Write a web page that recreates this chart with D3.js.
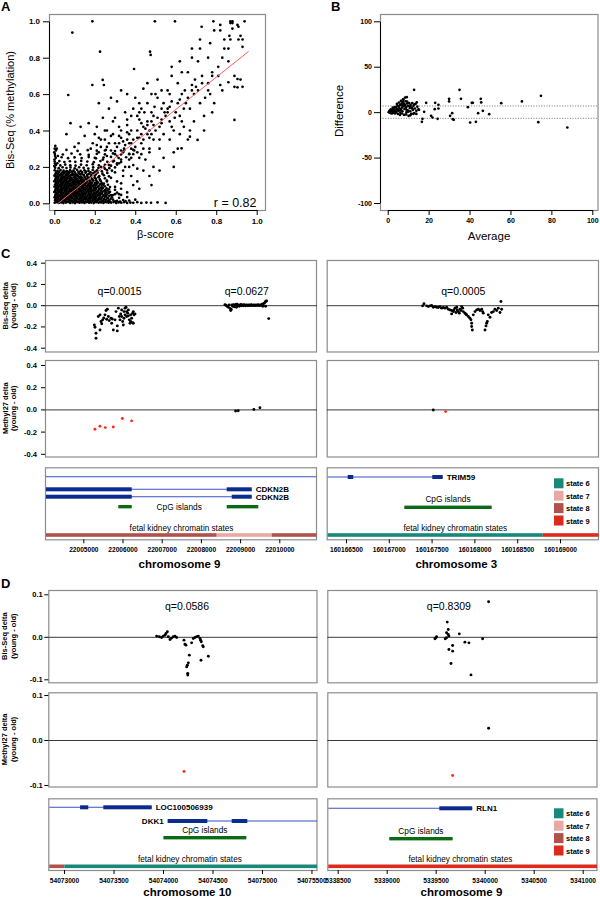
<!DOCTYPE html>
<html><head><meta charset="utf-8">
<script src="https://cdn.jsdelivr.net/npm/d3@7"></script>
<style>body{margin:0;background:#fff}svg{display:block}</style>
</head><body><svg id="fig" width="600" height="897"></svg>
<script>
// ================= DATA =================
// Panel A: beta-score vs Bis-Seq methylation
const scatterA = [
[0.002,0.003],[0.013,0.006],[0.022,0.002],[0.034,0.005],[0.045,0.001],[0.057,0.004],[0.068,0.007],[0.079,0.002],[0.091,0.005],[0.102,0.001],[0.114,0.006],[0.125,0.003],[0.137,0.005],[0.149,0.002],[0.16,0.006],[0.172,0.003],[0.183,0.004],[0.195,0.001],[0.207,0.006],[0.219,0.003],[0.231,0.005],[0.243,0.002],[0.256,0.006],[0.268,0.003],[0.281,0.004],[0.293,0.007],[0.306,0.002],[0.318,0.005],[0.331,0.003],[0.345,0.006],[0.36,0.002],[0.376,0.004],[0.39,0.003],[0.41,0.006],[0.43,0.002],[0.455,0.004],[0.478,0.003],[0.51,0.005],[0.55,0.002],
[0.004,0.017],[0.016,0.02],[0.027,0.015],[0.039,0.019],[0.05,0.016],[0.062,0.021],[0.073,0.017],[0.085,0.014],[0.097,0.019],[0.108,0.016],[0.12,0.021],[0.131,0.015],[0.143,0.018],[0.155,0.022],[0.166,0.016],[0.178,0.019],[0.19,0.014],[0.202,0.02],[0.214,0.017],[0.227,0.021],[0.24,0.015],[0.254,0.019],[0.27,0.016],[0.29,0.02],[0.31,0.014],[0.34,0.018],[0.37,0.015],[0.4,0.02],
[0.001,0.033],[0.01,0.03],[0.021,0.034],[0.033,0.029],[0.044,0.035],[0.056,0.031],[0.067,0.028],[0.079,0.034],[0.09,0.03],[0.102,0.036],[0.113,0.031],[0.125,0.028],[0.137,0.033],[0.148,0.03],[0.16,0.035],[0.171,0.029],[0.183,0.033],[0.195,0.03],[0.207,0.034],[0.22,0.028],[0.235,0.032],[0.25,0.036],[0.265,0.03],[0.285,0.033],[0.32,0.03],[0.36,0.034],
[0.005,0.046],[0.016,0.049],[0.028,0.044],[0.039,0.048],[0.051,0.045],[0.062,0.05],[0.074,0.046],[0.085,0.043],[0.097,0.048],[0.108,0.045],[0.12,0.05],[0.131,0.044],[0.143,0.047],[0.154,0.051],[0.166,0.045],[0.178,0.048],[0.19,0.043],[0.203,0.049],[0.215,0.046],[0.228,0.05],[0.243,0.044],[0.26,0.048],[0.28,0.045],[0.3,0.05],[0.33,0.046],
[0.0,0.062],[0.011,0.059],[0.022,0.064],[0.034,0.06],[0.045,0.058],[0.057,0.063],[0.068,0.06],[0.08,0.065],[0.091,0.059],[0.103,0.062],[0.114,0.058],[0.126,0.064],[0.137,0.061],[0.149,0.057],[0.16,0.063],[0.172,0.06],[0.184,0.065],[0.197,0.059],[0.21,0.062],[0.224,0.058],[0.238,0.064],[0.255,0.06],[0.275,0.063],[0.31,0.059],
[0.006,0.075],[0.017,0.078],[0.029,0.073],[0.04,0.077],[0.052,0.074],[0.063,0.079],[0.075,0.075],[0.086,0.072],[0.098,0.077],[0.109,0.074],[0.121,0.079],[0.132,0.073],[0.144,0.076],[0.156,0.08],[0.167,0.074],[0.18,0.077],[0.192,0.072],[0.205,0.078],[0.219,0.075],[0.234,0.079],[0.25,0.073],[0.27,0.077],[0.3,0.074],
[0.001,0.091],[0.012,0.088],[0.024,0.093],[0.035,0.089],[0.047,0.087],[0.058,0.092],[0.07,0.089],[0.081,0.094],[0.093,0.088],[0.104,0.091],[0.116,0.087],[0.127,0.093],[0.139,0.09],[0.151,0.086],[0.162,0.092],[0.175,0.089],[0.188,0.094],[0.201,0.088],[0.216,0.091],[0.232,0.087],[0.25,0.093],[0.275,0.089],
[0.005,0.104],[0.017,0.107],[0.028,0.102],[0.04,0.106],[0.051,0.103],[0.063,0.108],[0.074,0.104],[0.086,0.101],[0.097,0.106],[0.109,0.103],[0.12,0.108],[0.132,0.102],[0.144,0.105],[0.156,0.109],[0.168,0.103],[0.181,0.106],[0.195,0.101],[0.21,0.107],[0.226,0.104],[0.245,0.108],[0.265,0.102],
[0.0,0.121],[0.011,0.118],[0.023,0.123],[0.034,0.119],[0.046,0.117],[0.057,0.122],[0.069,0.119],[0.08,0.124],[0.092,0.118],[0.103,0.121],[0.115,0.117],[0.127,0.123],[0.139,0.12],[0.151,0.116],[0.164,0.122],[0.178,0.119],[0.193,0.124],[0.21,0.118],[0.23,0.121],[0.26,0.125],
[0.006,0.134],[0.018,0.137],[0.03,0.132],[0.042,0.136],[0.054,0.133],[0.066,0.138],[0.078,0.134],[0.09,0.131],[0.102,0.136],[0.115,0.133],[0.128,0.138],[0.141,0.132],[0.155,0.135],[0.17,0.139],[0.186,0.133],[0.205,0.136],[0.225,0.131],[0.25,0.137],
[0.001,0.151],[0.013,0.148],[0.026,0.153],[0.038,0.149],[0.05,0.147],[0.063,0.152],[0.076,0.149],[0.089,0.154],[0.103,0.148],[0.117,0.151],[0.132,0.147],[0.147,0.153],[0.163,0.15],[0.18,0.146],[0.2,0.152],[0.222,0.149],[0.245,0.154],[0.27,0.148],
[0.007,0.164],[0.02,0.167],[0.033,0.162],[0.047,0.166],[0.061,0.163],[0.075,0.168],[0.09,0.164],[0.105,0.161],[0.121,0.166],[0.137,0.163],[0.154,0.168],[0.172,0.162],[0.192,0.165],[0.214,0.169],[0.238,0.163],[0.262,0.167],
[0.002,0.181],[0.016,0.178],[0.031,0.183],[0.046,0.179],[0.062,0.177],[0.078,0.182],[0.095,0.179],[0.112,0.184],[0.13,0.178],[0.149,0.181],[0.169,0.177],[0.19,0.183],[0.212,0.18],[0.235,0.176],[0.26,0.182],[0.285,0.179],
[0.004,0.196],[0.022,0.193],[0.041,0.198],[0.06,0.194],[0.08,0.197],[0.101,0.192],[0.123,0.198],[0.145,0.195],[0.168,0.191],[0.192,0.197],[0.218,0.194],[0.245,0.199],[0.272,0.193],[0.3,0.197],
[0.008,0.211],[0.03,0.208],[0.054,0.213],[0.079,0.209],[0.105,0.207],[0.132,0.212],[0.16,0.209],[0.19,0.214],[0.22,0.208],[0.25,0.211],[0.28,0.207],[0.31,0.213],
[0.002,0.229],[0.025,0.232],[0.05,0.227],[0.077,0.231],[0.104,0.228],[0.133,0.233],[0.163,0.229],[0.195,0.226],[0.228,0.232],[0.262,0.228],[0.295,0.233],[0.33,0.227],
[0.007,0.25],[0.036,0.253],[0.068,0.248],[0.1,0.252],[0.135,0.249],[0.17,0.254],[0.206,0.247],[0.243,0.251],[0.28,0.255],[0.318,0.249],[0.355,0.253],
[0.003,0.271],[0.042,0.268],[0.085,0.273],[0.128,0.269],[0.17,0.266],[0.21,0.272],[0.25,0.269],[0.29,0.274],[0.33,0.268],[0.37,0.272],
[0.008,0.29],[0.06,0.293],[0.115,0.288],[0.165,0.292],[0.21,0.289],[0.255,0.294],[0.3,0.287],[0.345,0.291],[0.39,0.294],
[0.008,0.011],[0.019,0.009],[0.03,0.012],[0.041,0.01],[0.052,0.013],[0.063,0.009],[0.074,0.011],[0.086,0.013],[0.097,0.009],[0.108,0.012],[0.12,0.01],[0.131,0.013],[0.142,0.009],[0.154,0.011],[0.165,0.013],[0.176,0.009],[0.188,0.012],[0.2,0.01],[0.212,0.012],[0.225,0.009],[0.237,0.012],[0.25,0.01],[0.262,0.011],[0.275,0.009],[0.3,0.011],[0.325,0.01],[0.352,0.012],
[0.007,0.025],[0.018,0.027],[0.03,0.023],[0.041,0.026],[0.053,0.024],[0.064,0.027],[0.076,0.023],[0.087,0.026],[0.099,0.024],[0.11,0.027],[0.122,0.023],[0.133,0.026],[0.145,0.024],[0.157,0.027],[0.168,0.023],[0.18,0.026],[0.192,0.024],[0.205,0.027],[0.218,0.023],[0.232,0.026],[0.246,0.024],[0.262,0.027],[0.278,0.024],
[0.005,0.04],[0.016,0.038],[0.027,0.041],[0.038,0.039],[0.05,0.042],[0.061,0.038],[0.073,0.041],[0.084,0.039],[0.096,0.042],[0.107,0.038],[0.119,0.041],[0.13,0.039],[0.142,0.042],[0.153,0.038],[0.165,0.041],[0.177,0.039],[0.189,0.042],[0.201,0.038],[0.213,0.041],[0.226,0.039],[0.24,0.042],[0.256,0.039],[0.272,0.041],
[0.009,0.054],[0.02,0.056],[0.032,0.052],[0.043,0.055],[0.055,0.053],[0.066,0.056],[0.078,0.052],[0.089,0.055],[0.101,0.053],[0.112,0.056],[0.124,0.052],[0.135,0.055],[0.147,0.053],[0.158,0.056],[0.17,0.052],[0.182,0.055],[0.194,0.053],[0.207,0.056],[0.22,0.052],[0.234,0.055],[0.25,0.053],[0.268,0.056],
[0.004,0.068],[0.015,0.07],[0.027,0.066],[0.038,0.069],[0.05,0.067],[0.061,0.07],[0.073,0.066],[0.084,0.069],[0.096,0.067],[0.107,0.07],[0.119,0.066],[0.13,0.069],[0.142,0.067],[0.153,0.07],[0.165,0.066],[0.177,0.069],[0.189,0.067],[0.202,0.07],[0.215,0.066],[0.229,0.069],[0.245,0.067],[0.262,0.07],
[0.009,0.083],[0.02,0.085],[0.032,0.081],[0.043,0.084],[0.055,0.082],[0.066,0.085],[0.078,0.081],[0.089,0.084],[0.101,0.082],[0.112,0.085],[0.124,0.081],[0.135,0.084],[0.147,0.082],[0.158,0.085],[0.17,0.081],[0.182,0.084],[0.195,0.082],[0.208,0.085],[0.223,0.081],[0.24,0.084],[0.258,0.082],
[0.004,0.097],[0.015,0.099],[0.027,0.095],[0.038,0.098],[0.05,0.096],[0.061,0.099],[0.073,0.095],[0.084,0.098],[0.096,0.096],[0.107,0.099],[0.119,0.095],[0.13,0.098],[0.142,0.096],[0.153,0.099],[0.165,0.095],[0.177,0.098],[0.19,0.096],[0.204,0.099],[0.219,0.095],[0.236,0.098],
[0.009,0.112],[0.02,0.114],[0.032,0.11],[0.043,0.113],[0.055,0.111],[0.066,0.114],[0.078,0.11],[0.089,0.113],[0.101,0.111],[0.112,0.114],[0.124,0.11],[0.135,0.113],[0.147,0.111],[0.159,0.114],[0.172,0.11],[0.186,0.113],[0.2,0.111],[0.216,0.114],[0.235,0.11],
[0.004,0.127],[0.015,0.129],[0.027,0.125],[0.038,0.128],[0.05,0.126],[0.061,0.129],[0.073,0.125],[0.084,0.128],[0.096,0.126],[0.108,0.129],[0.12,0.125],[0.133,0.128],[0.146,0.126],[0.16,0.129],[0.175,0.125],[0.19,0.128],[0.207,0.126],[0.226,0.129],
[0.009,0.142],[0.021,0.144],[0.033,0.14],[0.045,0.143],[0.058,0.141],[0.07,0.144],[0.083,0.14],[0.096,0.143],[0.109,0.141],[0.123,0.144],[0.137,0.14],[0.151,0.143],[0.166,0.141],[0.182,0.144],[0.199,0.14],[0.218,0.143],
[0.004,0.157],[0.017,0.159],[0.03,0.155],[0.043,0.158],[0.056,0.156],[0.069,0.159],[0.083,0.155],[0.097,0.158],[0.112,0.156],[0.128,0.159],[0.145,0.155],[0.163,0.158],[0.183,0.156],[0.205,0.159],
[0.01,0.172],[0.025,0.174],[0.04,0.17],[0.055,0.173],[0.07,0.171],[0.086,0.174],[0.102,0.17],[0.119,0.173],[0.137,0.171],[0.157,0.174],[0.179,0.17],[0.2,0.173],
[0.0,0.205],[0.003,0.218],[0.001,0.24],[0.004,0.26],[0.0,0.28],[0.002,0.3],[0.005,0.315],[0.015,0.22],[0.018,0.26],[0.012,0.3],
[0.17,0.44],[0.19,0.33],[0.2,0.38],[0.21,0.42],[0.22,0.36],[0.23,0.31],[0.24,0.47],[0.25,0.35],[0.26,0.4],[0.27,0.52],[0.28,0.37],[0.29,0.45],[0.3,0.33],[0.22,0.55],[0.15,0.37],[0.13,0.42],[0.12,0.33],[0.08,0.44],[0.06,0.38],[0.1,0.31],[0.18,0.3],[0.26,0.31],[0.31,0.56],[0.33,0.62],[0.28,0.58],[0.36,0.6],
[0.2,0.25],[0.21,0.18],[0.22,0.28],[0.23,0.2],[0.24,0.24],[0.25,0.19],[0.26,0.26],[0.27,0.21],[0.28,0.29],[0.29,0.23],[0.3,0.27],[0.21,0.32],[0.23,0.35],[0.25,0.29],[0.27,0.33],[0.29,0.38],[0.31,0.22],[0.33,0.29],[0.35,0.32],[0.37,0.27],[0.39,0.35],[0.32,0.37],[0.34,0.34],[0.36,0.39],[0.38,0.33],[0.4,0.31],[0.41,0.36],[0.43,0.38],[0.45,0.41],[0.47,0.36],[0.49,0.43],[0.42,0.46],[0.44,0.35],[0.46,0.38],[0.48,0.45],[0.5,0.4],[0.35,0.2],[0.37,0.24],[0.39,0.21],[0.41,0.19],[0.43,0.27],[0.45,0.24],[0.28,0.14],[0.3,0.17],[0.26,0.12],[0.24,0.1],[0.3,0.09],[0.27,0.06],[0.33,0.11],[0.29,0.045],[0.25,0.4],[0.3,0.47],[0.35,0.5],[0.4,0.58],[0.44,0.63],[0.38,0.48],[0.42,0.5],[0.5,0.6],[0.55,0.48],[0.53,0.46],[0.57,0.53],[0.6,0.5],[0.58,0.42],[0.62,0.57],[0.65,0.55],[0.63,0.45],[0.68,0.62],[0.7,0.64],
[0.31,0.31],[0.32,0.33],[0.33,0.36],[0.34,0.28],[0.31,0.26],[0.32,0.22],[0.33,0.4],[0.34,0.18],[0.31,0.12],[0.32,0.05],[0.33,0.08],[0.34,0.15],[0.32,0.42],[0.33,0.24],[0.345,0.3],
[0.36,0.35],[0.37,0.38],[0.38,0.3],[0.39,0.27],[0.36,0.43],[0.37,0.2],[0.38,0.15],[0.39,0.1],[0.36,0.46],[0.37,0.33],[0.38,0.25],[0.39,0.52],[0.36,0.06],[0.38,0.4],[0.395,0.29],
[0.41,0.4],[0.42,0.36],[0.43,0.44],[0.44,0.3],[0.41,0.48],[0.42,0.25],[0.43,0.52],[0.44,0.18],[0.41,0.12],[0.42,0.55],[0.43,0.33],[0.44,0.42],[0.41,0.28],[0.42,0.08],[0.445,0.5],
[0.46,0.45],[0.47,0.4],[0.48,0.5],[0.49,0.35],[0.46,0.55],[0.47,0.28],[0.48,0.6],[0.49,0.2],[0.46,0.43],[0.47,0.15],[0.48,0.38],[0.49,0.48],[0.46,0.66],[0.47,0.3],[0.48,0.1],[0.495,0.53],
[0.51,0.47],[0.52,0.42],[0.53,0.52],[0.54,0.38],[0.51,0.58],[0.52,0.3],[0.53,0.62],[0.54,0.25],[0.51,0.68],[0.52,0.35],[0.53,0.44],[0.54,0.55],[0.52,0.18],[0.545,0.5],
[0.56,0.5],[0.57,0.45],[0.58,0.56],[0.59,0.4],[0.56,0.62],[0.57,0.35],[0.58,0.7],[0.59,0.28],[0.56,0.52],[0.57,0.6],[0.58,0.75],[0.59,0.2],[0.595,0.47],
[0.61,0.55],[0.62,0.48],[0.63,0.6],[0.64,0.42],[0.61,0.66],[0.62,0.38],[0.63,0.72],[0.64,0.52],[0.61,0.3],[0.62,0.78],[0.645,0.62],
[0.66,0.58],[0.67,0.52],[0.68,0.65],[0.69,0.45],[0.66,0.72],[0.67,0.4],[0.68,0.8],[0.69,0.6],[0.66,0.35],[0.68,0.85],[0.695,0.68],
[0.71,0.62],[0.72,0.55],[0.73,0.7],[0.74,0.48],[0.71,0.78],[0.72,0.85],[0.73,0.66],[0.74,0.4],[0.72,0.9],[0.745,0.58],
[0.76,0.66],[0.77,0.6],[0.78,0.72],[0.79,0.55],[0.76,0.8],[0.77,0.88],[0.78,0.7],[0.79,0.95],[0.76,0.62],[0.78,0.5],
[0.81,0.7],[0.82,0.65],[0.83,0.8],[0.84,0.9],[0.81,0.75],[0.82,0.95],[0.83,0.62],[0.84,0.85],[0.82,0.98],
[0.86,0.78],[0.87,0.9],[0.88,0.96],[0.89,0.7],[0.86,0.85],[0.87,0.99],[0.88,1.0],[0.89,0.64],[0.865,0.92],
[0.91,0.97],[0.92,0.92],[0.93,0.86],[0.92,0.68],[0.93,0.64],[0.91,0.9],[0.94,1.0],
[0.188,1.0],[0.497,1.0],[0.596,1.0],[0.089,0.938],[0.226,0.833],[0.069,0.595],[0.188,0.65],[0.239,0.678],[0.245,0.65],[0.394,0.738],[0.473,0.833],[0.476,0.815],[0.728,0.97],[0.786,1.0],[0.87,1.0],[0.88,0.99],[0.905,0.98],[0.93,0.9],[0.89,0.458],[0.905,0.683],[0.905,0.637],[0.86,0.665],[0.629,0.302],[0.708,0.348],[0.67,0.366]
];
const fitA = { intercept: -0.017, slope: 0.887, from: 0.015, to: 0.96 };
const corrA = "r = 0.82";
const ticksA = [0, 0.2, 0.4, 0.6, 0.8, 1.0];

// Panel B: Bland-Altman (average vs difference)
const scatterB = [
[0.5,0],[1,-0.5],[1.2,0.8],[1.5,-1],[1.8,1.5],[2,0.3],[2.2,2.5],[2.5,-0.8],[2.8,3.2],[3,1],[3.2,4.5],[3.5,-1.5],[3.8,2],[4,5.5],[4.2,0.5],[4.5,3.5],[4.8,7],[5,-2],[5.2,1.5],[5.5,6],[5.8,4],[6,8],[6.2,-0.5],[6.5,3],[6.8,9.5],[7,5],[7.2,1],[7.5,11],[7.8,6.5],[8,-3],[8.2,3.5],[8.5,8],[8.8,12],[9,5.5],[9.2,0],[9.5,9.5],[9.8,2],[10,7],[10.2,-4],[10.5,10],[10.8,4.5],[11,1],[11.2,8],[11.5,-2],[11.8,5],[12,10],[12.3,2.5],[12.6,7],[13,-1],[13.3,4],[13.6,9],[14,1.5],[14.5,6],[15,3],
[1,1.8],[2,-1.5],[3,2.8],[4,-0.5],[5,3],[6,1.8],[7,7.5],[8,9],[9,3],[10,0.5],[11,6],[12,4],[13,8.5],[3.5,5.5],[4.5,9],[5.5,10.5],[6.5,12.5],[7.5,14],[8.5,16],[9.5,11.5],[2.5,5],[1.5,3],[6,-3],[7,-1.5],[9,-2.5],[11,-3.5],[12.5,-1.8],[14,-2],[0.8,0.5],[1.3,-0.2],
[12.9,24.6],[35.1,24.6],[35.8,14.7],[30,14.7],[30,11.8],[45.5,14.7],[45.7,10.7],[41.1,10.3],[41.6,10.3],[39.2,5.5],[23.2,10.3],[24.8,8.1],[23,3.3],[24.8,4],[18.8,10.3],[14.2,10.7],[15.3,2.6],[17.8,0.4],[17,-7.4],[16.7,-10.7],[21.2,-4],[21.9,-5.9],[24.4,-7.4],[30.5,-4],[31.5,-1.1],[31.8,-7.7],[32.3,-8.5],[40.3,-11.4],[43.1,-10.7],[44.2,-1.1],[46.5,1.5],[49.6,-2.2],[55.5,9.9],[65.6,11.8],[74.9,18],[73.6,-11],[87.8,-16.9],[9.3,16.5],[7.7,13.6]
];
const limitsB = [6.8, -6.8];
const xTicksB = [0, 20, 40, 60, 80, 100];
const yTicksB = [-100, -50, 0, 50, 100];

// Panel C, chromosome 9 (CDKN2B)
const cLeftBis1 = [[22005281,-0.186],[22005324,-0.264],[22005324,-0.311],[22005298,-0.208],[22005383,-0.107],[22005426,-0.091],[22005426,-0.233],[22005452,-0.154],[22005494,-0.138],[22005554,-0.091],[22005579,-0.05],[22005613,-0.038],[22005639,-0.107],[22005596,-0.132],[22005707,-0.123],[22005724,-0.17],[22005766,-0.233],[22005809,-0.138],[22005834,-0.06],[22005868,-0.242],[22005868,-0.195],[22005894,-0.028],[22005919,-0.107],[22005936,-0.138],[22005953,-0.082],[22005979,-0.044],[22006004,-0.154],[22006021,-0.186],[22006038,-0.123],[22006064,-0.091],[22006064,-0.028],[22006089,-0.019],[22006106,-0.06],[22006106,-0.107],[22006132,-0.075],[22006149,-0.044],[22006174,-0.138],[22006191,-0.17],[22006208,-0.154],[22006208,-0.091],[22006234,-0.123],[22006259,-0.075],[22006276,-0.06],[22006293,-0.091],[22006319,-0.082],[22006038,-0.06],[22005979,-0.107],[22006149,-0.1],[22006259,-0.165],[22006276,-0.17],[22005740,-0.13],[22005660,-0.145],[22005520,-0.12],[22005470,-0.175]];
const cLeftBis2 = [[22008613,0.005],[22008640,0.0],[22008670,-0.01],[22008700,-0.02],[22008720,0.003],[22008745,-0.03],[22008760,-0.05],[22008775,-0.04],[22008790,0.002],[22008810,-0.01],[22008830,0.005],[22008850,-0.015],[22008870,0.0],[22008890,0.008],[22008905,-0.02],[22008920,0.01],[22008940,-0.005],[22008960,0.003],[22008980,-0.01],[22009000,0.0],[22009020,0.006],[22009040,-0.004],[22009060,0.002],[22009080,-0.006],[22009100,0.004],[22009120,0.0],[22009140,-0.005],[22009160,0.003],[22009180,0.0],[22009200,-0.004],[22009220,0.002],[22009240,0.0],[22009260,-0.003],[22009280,0.004],[22009300,0.0],[22009320,-0.003],[22009340,0.002],[22009360,0.0],[22009380,-0.004],[22009400,0.003],[22009420,0.0],[22009440,-0.002],[22009460,0.004],[22009480,-0.003],[22009500,0.0],[22009520,0.002],[22009540,-0.002],[22009560,0.01],[22009580,-0.01],[22009600,0.015],[22009620,0.02],[22009640,0.03],[22009660,0.038],[22009675,0.04],[22009650,-0.01],[22009730,-0.126]];
const cLeftQ = ["q=0.0015", "q=0.0627"];
const cLeftM27Black = [[22008885,-0.015],[22008953,-0.012],[22009352,0.0],[22009505,0.015]];
const cLeftM27Red = [[22005298,-0.179],[22005425,-0.152],[22005561,-0.164],[22005765,-0.158],[22005995,-0.082],[22006233,-0.103]];
const cLeftGenes = [
  {name:"", span:[21990000,22030000], thick:[]},
  {name:"CDKN2B", span:[22002903,22009296], thick:[[22002903,22006235],[22008658,22009296]]},
  {name:"CDKN2B", span:[22002903,22009296], thick:[[22002903,22006235],[22008786,22009296]]}
];
const cLeftCpG = [[22005893,22006235],[22008658,22009464]];
const cLeftStates = [[21990000,22008403,8],[22008403,22009806,7],[22009806,22020000,8]];
const cLeftTicks = [22005000,22006000,22007000,22008000,22009000,22010000];
const cLeftChrom = "chromosome 9";

// Panel C, chromosome 3 (TRIM59)
const cRightBis = [[160167395,-0.006],[160167411,0.013],[160167442,-0.006],[160167462,-0.013],[160167481,-0.006],[160167501,-0.003],[160167520,-0.019],[160167540,-0.013],[160167559,-0.019],[160167578,-0.022],[160167598,-0.013],[160167617,-0.028],[160167637,-0.022],[160167656,-0.028],[160167676,-0.019],[160167695,-0.038],[160167715,-0.044],[160167734,-0.05],[160167734,-0.082],[160167754,-0.06],[160167761,-0.044],[160167773,-0.028],[160167785,-0.069],[160167793,-0.019],[160167800,-0.044],[160167812,-0.06],[160167824,-0.075],[160167832,-0.038],[160167843,-0.05],[160167851,-0.013],[160167863,-0.028],[160167870,-0.06],[160167890,-0.075],[160167902,-0.085],[160167909,-0.091],[160167929,-0.107],[160167948,-0.123],[160167960,-0.138],[160167968,-0.17],[160167968,-0.201],[160167976,-0.233],[160167987,-0.091],[160168007,-0.06],[160168026,-0.044],[160168046,-0.038],[160168065,-0.05],[160168085,-0.038],[160168096,-0.06],[160168104,-0.075],[160168124,-0.233],[160168135,-0.195],[160168143,-0.17],[160168151,-0.154],[160168162,-0.091],[160168182,-0.113],[160168201,-0.069],[160168221,-0.06],[160168240,-0.038],[160168260,-0.05],[160168279,-0.028],[160168299,-0.069],[160168318,-0.038],[160168310,0.035]];
const cRightQ = ["q=0.0005"];
const cRightM27Black = [[160167520,-0.005]];
const cRightM27Red = [[160167664,-0.02]];
const cRightGenes = [{name:"TRIM59", span:[160150000,160167630], thick:[[160166520,160166585],[160167508,160167630]]}];
const cRightCpG = [[160167181,160168202]];
const cRightStates = [[160160000,160168798,6],[160168798,160175000,9]];
const cRightTicks = [160166500,160167000,160167500,160168000,160168500,160169000];
const cRightChrom = "chromosome 3";

// Panel D, chromosome 10 (DKK1)
const dLeftBis = [[54073936,0.0016],[54073963,0],[54073986,-0.0016],[54074003,0.0016],[54074020,0.0039],[54074030,0.0079],[54074044,0.0118],[54074054,0],[54074071,-0.0063],[54074087,-0.0031],[54074104,0],[54074121,0.0016],[54074138,-0.0016],[54074212,-0.0079],[54074222,-0.0173],[54074232,-0.0197],[54074239,-0.0708],[54074246,-0.0668],[54074256,-0.0613],[54074266,-0.0432],[54074250,-0.086],[54074250,-0.09],[54074289,-0.0142],[54074306,-0.0039],[54074323,-0.0016],[54074340,0],[54074357,0.0016],[54074374,-0.0039],[54074380,-0.0079],[54074387,-0.0118],[54074401,-0.0212],[54074407,-0.0236],[54074458,-0.0456],[54074384,-0.055]];
const dLeftQ = ["q=0.0586"];
const dLeftM27Black = [];
const dLeftM27Red = [[54074212,-0.07]];
const dLeftGenes = [
  {name:"LOC100506939", span:[54072000,54073886], thick:[[54073162,54073245],[54073397,54073886]], side:"right"},
  {name:"DKK1", span:[54074047,54078000], thick:[[54074047,54074448],[54074694,54074852]], side:"left"}
];
const dLeftCpG = [[54074004,54074842]];
const dLeftStates = [[54070000,54073003,8],[54073003,54080000,6]];
const dLeftTicks = [54073000,54073500,54074000,54074500,54075000,54075500];
const dLeftChrom = "chromosome 10";

// Panel D, chromosome 9 (RLN1)
const dRightBis = [[5340040,0.0825],[5339618,0.0346],[5339628,0.0173],[5339611,0.0094],[5339628,0.0055],[5339635,0.0016],[5339611,-0.0024],[5339598,-0.0047],[5339503,-0.0024],[5339492,-0.0047],[5339509,0],[5339741,0.007],[5339798,-0.0126],[5339839,-0.0142],[5339979,-0.0047],[5339673,-0.0204],[5339635,-0.03],[5339673,-0.0338],[5339656,-0.0629],[5339860,-0.0897]];
const dRightQ = ["q=0.8309"];
const dRightM27Black = [[5340040,0.026]];
const dRightM27Red = [[5339673,-0.079]];
const dRightGenes = [{name:"RLN1", span:[5330000,5339873], thick:[[5339537,5339873]], side:"right"}];
const dRightCpG = [[5339026,5339673]];
const dRightStates = [[5330000,5350000,9]];
const dRightTicks = [5338500,5339000,5339500,5340000,5340500,5341000];
const dRightChrom = "chromosome 9";

const stateNames = [6, 7, 8, 9];
const cTicksY = [-0.4, -0.2, 0, 0.2, 0.4];
const dTicksY = [-0.1, 0, 0.1];

// ================= STYLE / LAYOUT =================
const FONT = '"Liberation Sans", Arial, Helvetica, sans-serif';
const stateColor = {6:"#17897b", 7:"#e8a9a5", 8:"#b0514b", 9:"#dc2a1e"};
const C_FRAME = "#8c8c8c";
const svg = d3.select("#fig");

function txt(x, y, s, o = {}) {
  const t = svg.append("text").attr("x", x).attr("y", y).text(s)
    .attr("font-family", FONT).attr("font-size", o.size || 10)
    .attr("font-weight", o.bold ? "bold" : "normal")
    .attr("fill", o.fill || "#000").attr("text-anchor", o.anchor || "start");
  if (o.rot) t.attr("transform", `rotate(${o.rot},${x},${y})`);
  return t;
}
function frame(x0, y0, x1, y1) {
  svg.append("rect").attr("x", x0 + 0.5).attr("y", y0 + 0.5).attr("width", x1 - x0).attr("height", y1 - y0)
    .attr("fill", "none").attr("stroke", C_FRAME).attr("stroke-width", 1.2);
}
function dots(data, xs, ys, color, r) {
  svg.append("g").selectAll("circle").data(data).join("circle")
    .attr("cx", d => xs(d[0])).attr("cy", d => ys(d[1])).attr("r", r).attr("fill", color);
}
function styleAxis(g, size, keepDomain) {
  if (!keepDomain) g.select(".domain").remove(); else g.select(".domain").attr("stroke", "#000");
  g.selectAll(".tick line").attr("stroke", "#000");
  g.selectAll("text").attr("font-family", FONT).attr("font-weight", "bold").attr("font-size", size).attr("fill", "#000");
}
const fmt1 = d => d.toFixed(1);

// ================= PANEL A =================
{
  const xs = d3.scaleLinear().domain([0, 1]).range([54.3, 256.7]);
  const ys = d3.scaleLinear().domain([0, 1]).range([203.3, 21.3]);
  frame(49, 14, 265, 210);
  dots(scatterA, xs, ys, "#000", 1.35);
  svg.append("line").attr("x1", xs(fitA.from)).attr("y1", ys(fitA.intercept + fitA.slope * fitA.from))
    .attr("x2", xs(fitA.to)).attr("y2", ys(fitA.intercept + fitA.slope * fitA.to))
    .attr("stroke", "#ff5a5a").attr("stroke-width", 1);
  const gx = svg.append("g").attr("transform", "translate(0,210)")
    .call(d3.axisBottom(xs).tickValues(ticksA).tickFormat(fmt1).tickSize(5).tickSizeOuter(0).tickPadding(3));
  styleAxis(gx, 8, true);
  const gy = svg.append("g").attr("transform", "translate(49,0)")
    .call(d3.axisLeft(ys).tickValues(ticksA).tickFormat(fmt1).tickSize(6).tickSizeOuter(0).tickPadding(3));
  styleAxis(gy, 8, true);
  txt(256.5, 207, corrA, {size: 12.5, anchor: "end"});
  txt(155.5, 238, "β-score", {size: 11, anchor: "middle"});
  txt(14, 110, "Bis-Seq (% methylation)", {size: 11, anchor: "middle", rot: -90});
  txt(1, 11, "A", {size: 13, bold: true});
}

// ================= PANEL B =================
{
  const xs = d3.scaleLinear().domain([0, 100]).range([387.7, 592.3]);
  const ys = d3.scaleLinear().domain([-100, 100]).range([203, 21.3]);
  frame(380, 14, 597.5, 210);
  limitsB.forEach(v => svg.append("line").attr("x1", 380).attr("x2", 597.5).attr("y1", ys(v)).attr("y2", ys(v))
    .attr("stroke", "#777").attr("stroke-width", 0.9).attr("stroke-dasharray", "1.2,1.4"));
  dots(scatterB, xs, ys, "#000", 1.35);
  const gx = svg.append("g").attr("transform", "translate(0,210)")
    .call(d3.axisBottom(xs).tickValues(xTicksB).tickFormat(d3.format("d")).tickSize(5).tickSizeOuter(0).tickPadding(3));
  styleAxis(gx, 7, true);
  const gy = svg.append("g").attr("transform", "translate(380,0)")
    .call(d3.axisLeft(ys).tickValues(yTicksB).tickFormat(d => String(d)).tickSize(6).tickSizeOuter(0).tickPadding(2));
  styleAxis(gy, 7, true);
  txt(489, 240, "Average", {size: 11.5, anchor: "middle"});
  txt(342.5, 111, "Difference", {size: 11.5, anchor: "middle", rot: -90});
  txt(331, 11, "B", {size: 13, bold: true});
}

// ================= PANELS C / D =================
function deltaRow(o) {
  frame(o.x0, o.y0, o.x1, o.y1);
  const ys = d3.scaleLinear().domain(o.yDom).range(o.yRng);
  svg.append("line").attr("x1", o.x0).attr("x2", o.x1 + 1).attr("y1", ys(0) + 0.5).attr("y2", ys(0) + 0.5)
    .attr("stroke", "#3a3a3a").attr("stroke-width", 1);
  (o.groups || []).forEach((grp, i) => {
    dots(grp, o.xs, ys, "#000", 1.45);
    if (o.q && o.q[i]) {
      const med = d3.median(grp, d => o.xs(d[0]));
      txt(med, ys(o.qY), o.q[i], {size: 10.5, anchor: "middle"});
    }
  });
  if (o.red) dots(o.red, o.xs, ys, "#ff2a1a", 1.45);
  if (o.axis) {
    const g = svg.append("g").attr("transform", `translate(${o.x0},0)`)
      .call(d3.axisLeft(ys).tickValues(o.ticks).tickFormat(fmt1).tickSize(4).tickSizeOuter(0).tickPadding(o.pad));
    styleAxis(g, 7.5, false);
  }
  if (o.title) {
    const cy = (o.y0 + o.y1) / 2;
    txt(7.5, cy, o.title, {size: 7.5, bold: true, anchor: "middle", rot: -90});
    txt(16, cy, "(young - old)", {size: 7.5, bold: true, anchor: "middle", rot: -90});
  }
}

let clipN = 0;
function geneTrack(o) {
  frame(o.x0, o.y0, o.x1, o.y1);
  const id = "clip" + (clipN++);
  svg.append("clipPath").attr("id", id).append("rect")
    .attr("x", o.x0 + 1).attr("y", o.y0).attr("width", o.x1 - o.x0 - 0.5).attr("height", o.y1 - o.y0);
  const g = svg.append("g").attr("clip-path", `url(#${id})`);
  const xs = o.xs;
  o.genes.forEach((gn, i) => {
    const y = o.rows[i];
    g.append("line").attr("x1", xs(gn.span[0])).attr("x2", xs(gn.span[1])).attr("y1", y).attr("y2", y)
      .attr("stroke", "#3553c4").attr("stroke-width", 1.1);
    gn.thick.forEach(t => g.append("rect").attr("x", xs(t[0])).attr("width", xs(t[1]) - xs(t[0]))
      .attr("y", y - 2).attr("height", 4).attr("fill", "#0b2b8e"));
    if (gn.name) {
      if (gn.side === "left") txt(xs(gn.span[0]) - 4, y + 3, gn.name, {size: 8, bold: true, anchor: "end"});
      else txt(xs(gn.span[1]) + 4, y + 3, gn.name, {size: 8, bold: true});
    }
  });
  o.cpg.forEach(c => g.append("rect").attr("x", xs(c[0])).attr("width", xs(c[1]) - xs(c[0]))
    .attr("y", o.cpgY - 1.7).attr("height", 3.4).attr("fill", "#0b6b14"));
  if (o.cpg.length > 1) {
    const mid = (xs(o.cpg[0][1]) + xs(o.cpg[1][0])) / 2;
    txt(mid, o.cpgY + 3, "CpG islands", {size: 8.3, anchor: "middle"});
  } else {
    const mid = (xs(o.cpg[0][0]) + xs(o.cpg[0][1])) / 2;
    txt(mid, o.cpgY - 5, "CpG islands", {size: 8.3, anchor: "middle"});
  }
  o.states.forEach(s => g.append("rect").attr("x", xs(s[0])).attr("width", xs(s[1]) - xs(s[0]))
    .attr("y", o.stateY - 1.8).attr("height", 3.6).attr("fill", stateColor[s[2]]));
  txt((o.x0 + o.x1) / 2 + o.stateLabelDx, o.stateY - 4.5, "fetal kidney chromatin states", {size: 8.2, anchor: "middle"});
  if (o.legend) {
    stateNames.forEach((s, i) => {
      const cy = o.legendY + i * 12.4;
      svg.append("rect").attr("x", 554).attr("y", cy - 5).attr("width", 9.5).attr("height", 10).attr("fill", stateColor[s]);
      txt(566, cy + 3, "state " + s, {size: 7.5, bold: true});
    });
  }
  const ga = svg.append("g").attr("transform", `translate(0,${o.y1})`)
    .call(d3.axisBottom(xs).tickValues(o.ticks).tickFormat(d3.format("d")).tickSize(4).tickSizeOuter(0).tickPadding(4));
  styleAxis(ga, 6.6, false);
  txt((o.x0 + o.x1) / 2 + o.chromDx, o.chromY, o.chrom, {size: 11.5, bold: true, anchor: "middle"});
}

// ---- Panel C ----
{
  const L = {x0: 45, x1: 316}, R = {x0: 326.7, x1: 598};
  const xsL = d3.scaleLinear().domain([22004023, 22010936]).range([45, 316]);
  const xsR = d3.scaleLinear().domain([160166275, 160169447]).range([326.7, 598.3]);
  const row1 = {y0: 260, y1: 351.5, yDom: [-0.4, 0.4], yRng: [347.7, 262.7]};
  const row2 = {y0: 360, y1: 456.5, yDom: [-0.4, 0.4], yRng: [453.8, 365]};
  deltaRow({...L, ...row1, xs: xsL, groups: [cLeftBis1, cLeftBis2], q: cLeftQ, qY: 0.095, axis: true, ticks: cTicksY, pad: 4, title: "Bis-Seq delta"});
  deltaRow({...R, ...row1, xs: xsR, groups: [cRightBis], q: cRightQ, qY: 0.095});
  deltaRow({...L, ...row2, xs: xsL, groups: [cLeftM27Black], red: cLeftM27Red, axis: true, ticks: cTicksY, pad: 4, title: "Methyl27 delta"});
  deltaRow({...R, ...row2, xs: xsR, groups: [cRightM27Black], red: cRightM27Red});
  const track = {y0: 467.3, y1: 539.3, stateY: 535, chromY: 568};
  geneTrack({...L, ...track, xs: xsL, genes: cLeftGenes, rows: [476.7, 489.3, 496.7], cpg: cLeftCpG, cpgY: 506.7,
    states: cLeftStates, stateLabelDx: 1, ticks: cLeftTicks, chrom: cLeftChrom, chromDx: -1});
  geneTrack({...R, ...track, xs: xsR, genes: cRightGenes, rows: [477], cpg: cRightCpG, cpgY: 507.3,
    states: cRightStates, stateLabelDx: -7, ticks: cRightTicks, chrom: cRightChrom, chromDx: -6, legend: true, legendY: 483.3});
  txt(1, 258, "C", {size: 13, bold: true});
}

// ---- Panel D ----
{
  const L = {x0: 48.3, x1: 316.5}, R = {x0: 327.3, x1: 596.5};
  const xsL = d3.scaleLinear().domain([54072841, 54075553]).range([48.3, 316.7]);
  const xsR = d3.scaleLinear().domain([5338394, 5341143]).range([327.3, 596.7]);
  const row1 = {y0: 590, y1: 682.3, yDom: [-0.1, 0.1], yRng: [679.3, 594.3]};
  const row2 = {y0: 692.3, y1: 786.5, yDom: [-0.1, 0.1], yRng: [785, 695]};
  deltaRow({...L, ...row1, xs: xsL, groups: [dLeftBis], q: dLeftQ, qY: 0.063, axis: true, ticks: dTicksY, pad: 1.5, title: "Bis-Seq delta"});
  deltaRow({...R, ...row1, xs: xsR, groups: [dRightBis], q: dRightQ, qY: 0.063});
  deltaRow({...L, ...row2, xs: xsL, groups: [dLeftM27Black], red: dLeftM27Red, axis: true, ticks: dTicksY, pad: 1.5, title: "Methyl27 delta"});
  deltaRow({...R, ...row2, xs: xsR, groups: [dRightM27Black], red: dRightM27Red});
  const track = {y0: 798.3, y1: 870, stateY: 866.3, chromY: 896};
  geneTrack({...L, ...track, xs: xsL, genes: dLeftGenes, rows: [807.3, 821], cpg: dLeftCpG, cpgY: 837.7,
    states: dLeftStates, stateLabelDx: 7.5, ticks: dLeftTicks, chrom: dLeftChrom, chromDx: 5});
  geneTrack({...R, ...track, xs: xsR, genes: dRightGenes, rows: [808.3], cpg: dRightCpG, cpgY: 838.7,
    states: dRightStates, stateLabelDx: -1.5, ticks: dRightTicks, chrom: dRightChrom, chromDx: -0.5, legend: true, legendY: 813.3});
  txt(1, 588, "D", {size: 13, bold: true});
}
</script></body></html>
